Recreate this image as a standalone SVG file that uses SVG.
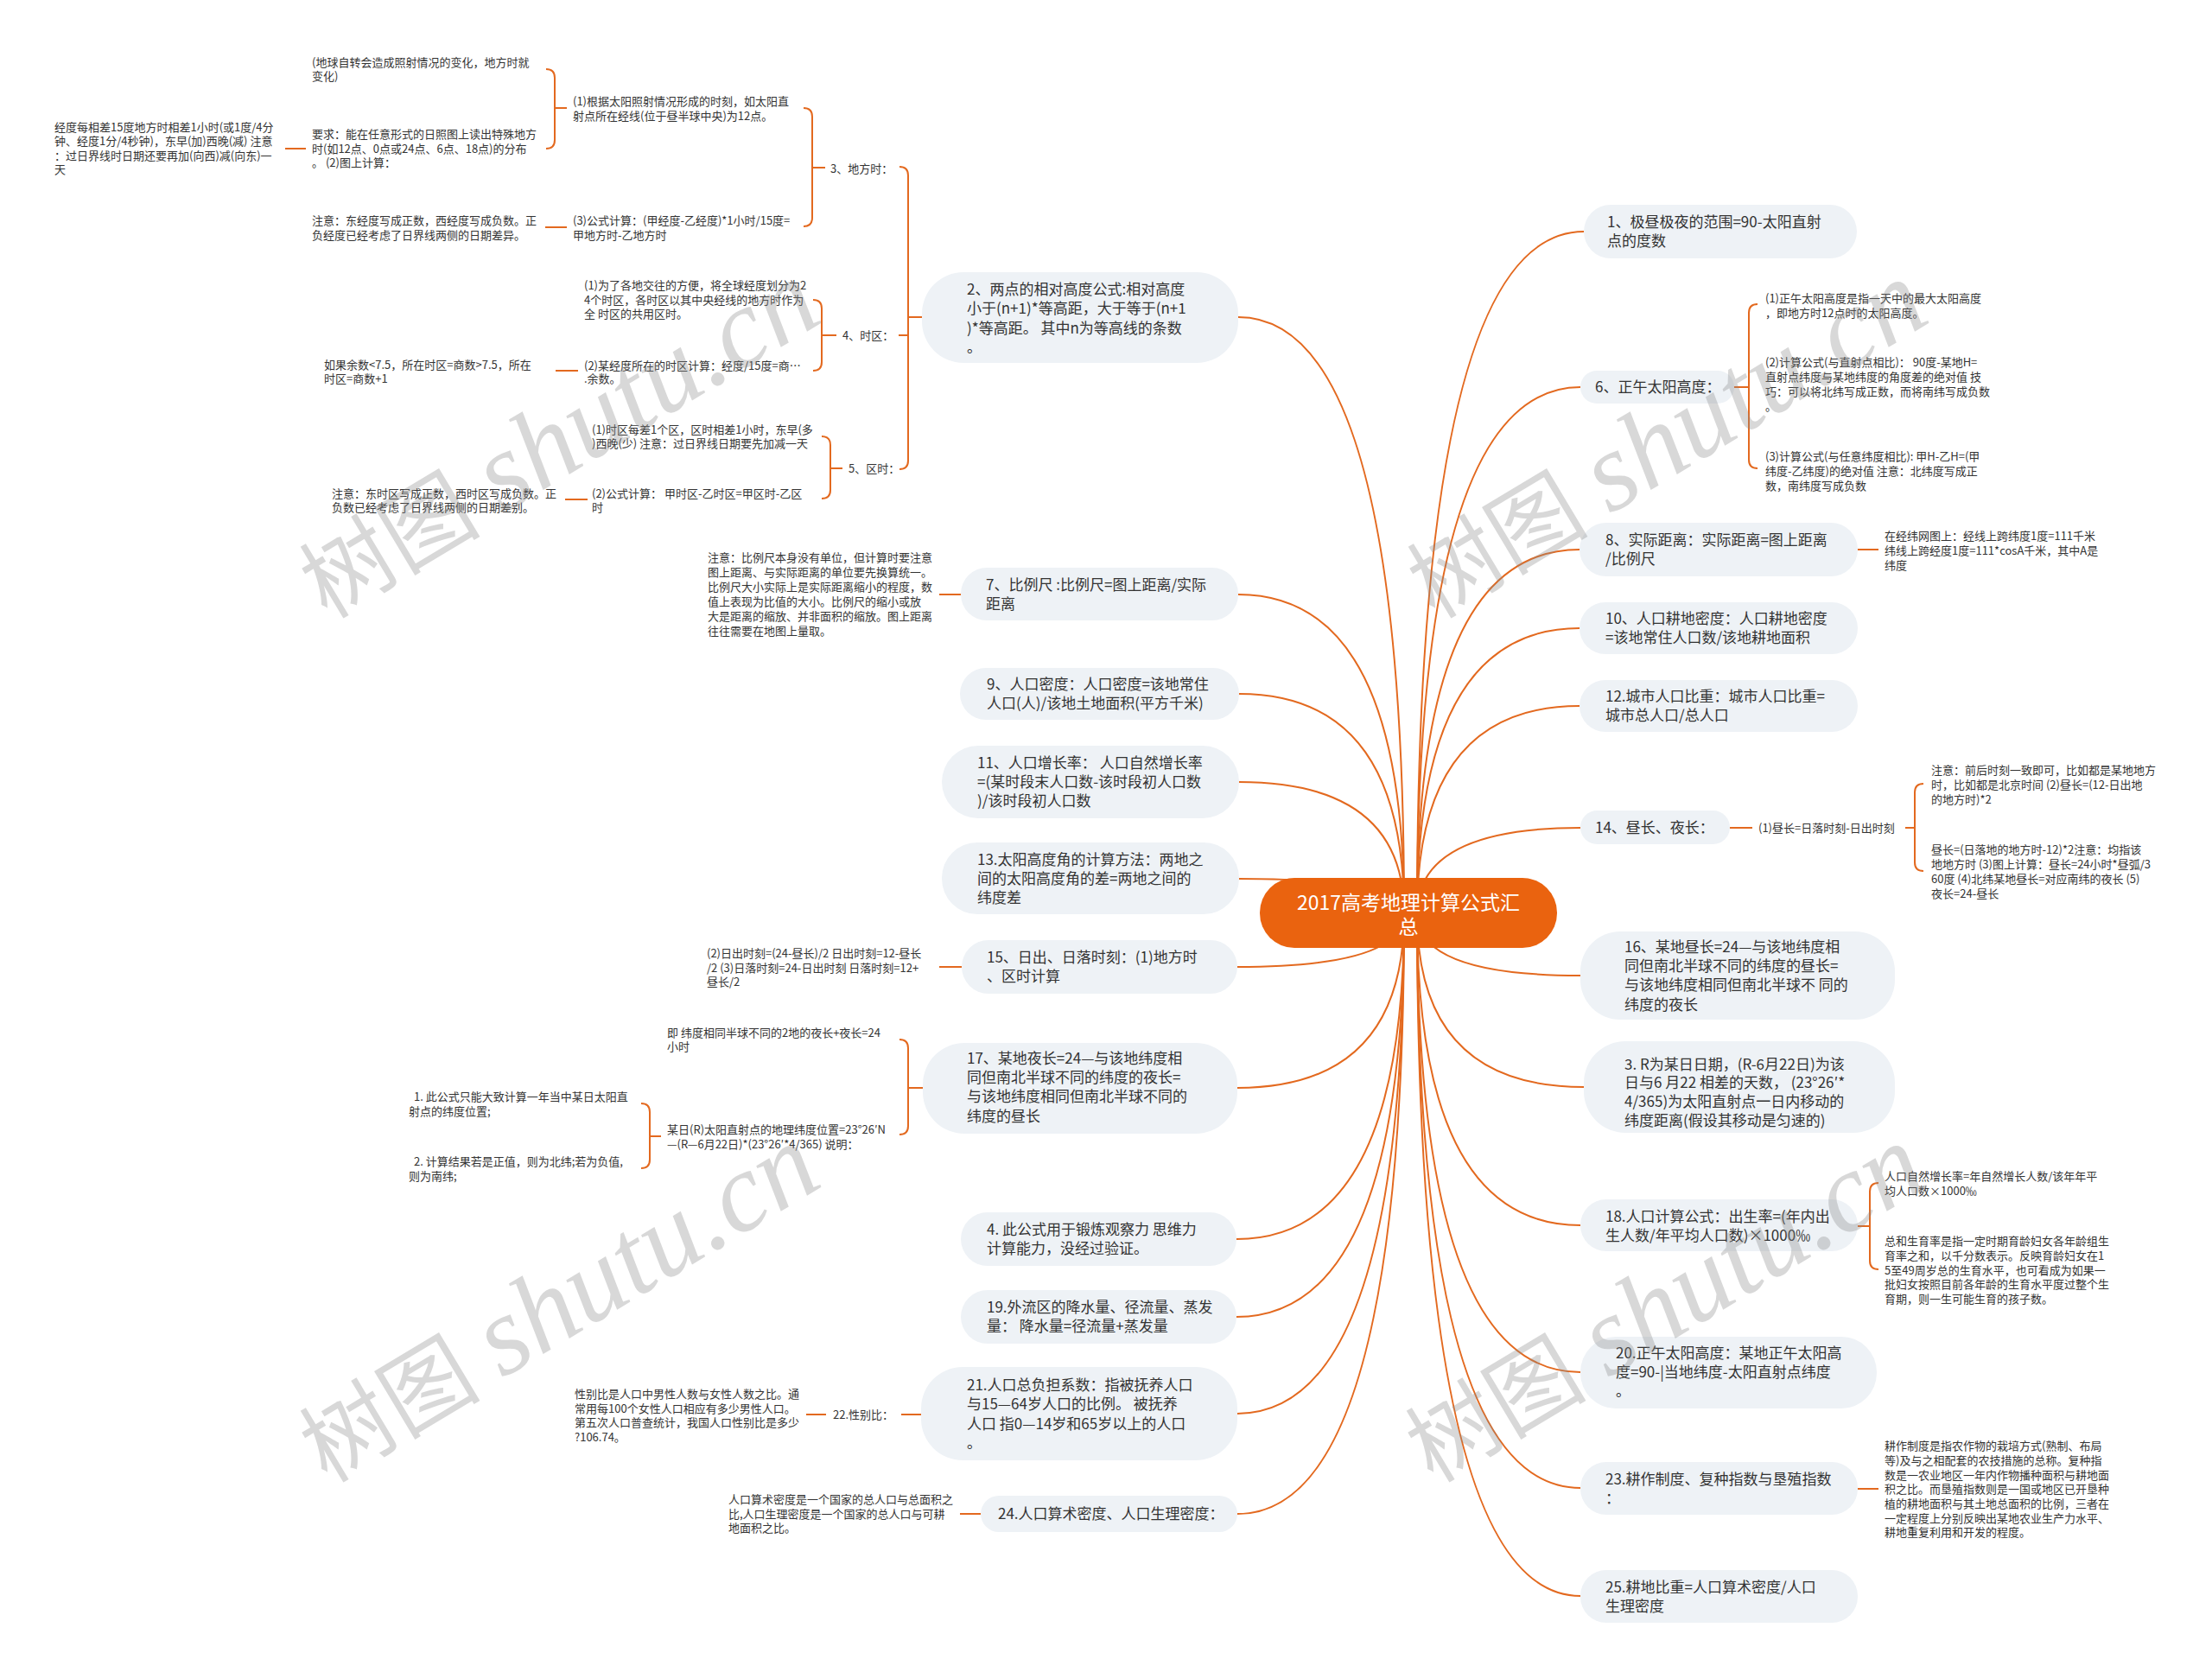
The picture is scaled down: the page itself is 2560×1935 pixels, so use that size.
<svg xmlns="http://www.w3.org/2000/svg" width="2560" height="1935" viewBox="0 0 2560 1935">
<style>
.nb{fill:#EEF2F6}
.t1{font-family:'Noto Sans CJK SC','Noto Sans',sans-serif;font-size:17px;fill:#333}
.t2{font-family:'Noto Sans CJK SC','Noto Sans',sans-serif;font-size:13px;fill:#333}
.t0{font-family:'Noto Sans CJK SC','Noto Sans',sans-serif;font-size:23px;fill:#fff}
.c{fill:none;stroke:#E3691F;stroke-width:2}
.wm{font-family:'Liberation Serif','Noto Sans CJK SC',serif;font-size:105px;fill:#8a8a8a;opacity:.33}
.wl{font-size:130px;font-style:italic}
</style>
<rect width="2560" height="1935" fill="#fff"/>
<g id="connectors">
<path class="c" d="M1625 1057 Q1625 367 1433 367"/>
<path class="c" d="M1625 1057 Q1625 688 1433 688"/>
<path class="c" d="M1625 1057 Q1625 803 1434 803"/>
<path class="c" d="M1625 1057 Q1625 905 1434 905"/>
<path class="c" d="M1625 1057 Q1625 1017 1434 1017"/>
<path class="c" d="M1625 1057 Q1625 1119 1432 1119"/>
<path class="c" d="M1625 1057 Q1625 1259 1432 1259"/>
<path class="c" d="M1625 1057 Q1625 1434 1431 1434"/>
<path class="c" d="M1625 1057 Q1625 1524 1431 1524"/>
<path class="c" d="M1625 1057 Q1625 1636 1432 1636"/>
<path class="c" d="M1625 1057 Q1625 1752 1432 1752"/>
<path class="c" d="M1640 1057 Q1640 268 1833 268"/>
<path class="c" d="M1640 1057 Q1640 448 1829 448"/>
<path class="c" d="M1640 1057 Q1640 636 1828 636"/>
<path class="c" d="M1640 1057 Q1640 727 1828 727"/>
<path class="c" d="M1640 1057 Q1640 817 1828 817"/>
<path class="c" d="M1640 1057 Q1640 958 1829 958"/>
<path class="c" d="M1640 1057 Q1640 1129 1829 1129"/>
<path class="c" d="M1640 1057 Q1640 1258 1833 1258"/>
<path class="c" d="M1640 1057 Q1640 1418 1829 1418"/>
<path class="c" d="M1640 1057 Q1640 1588 1829 1588"/>
<path class="c" d="M1640 1057 Q1640 1722 1829 1722"/>
<path class="c" d="M1640 1057 Q1640 1847 1829 1847"/>
<path class="c" d="M1041 193 Q1051 193 1051 203 L1051 533 Q1051 543 1041 543 M1051 367 L1067 367 M1051 388 L1040 388"/>
<path class="c" d="M930 125 Q940 125 940 135 L940 252 Q940 262 930 262 M940 194 L955 194"/>
<path class="c" d="M632 80 Q642 80 642 90 L642 162 Q642 172 632 172 M642 125 L656 125"/>
<path class="c" d="M330 172 L354 172 M631 263 L656 263"/>
<path class="c" d="M941 347 Q951 347 951 357 L951 419 Q951 429 941 429 M951 388 L968 388"/>
<path class="c" d="M643 429 L669 429"/>
<path class="c" d="M951 505 Q961 505 961 515 L961 567 Q961 577 951 577 M961 542 L975 542"/>
<path class="c" d="M654 578 L680 578"/>
<path class="c" d="M1087 688 L1112 688 M1087 1119 L1113 1119"/>
<path class="c" d="M1041 1203 Q1051 1203 1051 1213 L1051 1303 Q1051 1313 1041 1313 M1051 1259 L1068 1259"/>
<path class="c" d="M742 1277 Q752 1277 752 1287 L752 1342 Q752 1352 742 1352 M752 1315 L765 1315"/>
<path class="c" d="M1043 1637 L1066 1637 M933 1637 L956 1637 M1111 1752 L1135 1752"/>
<path class="c" d="M2007 448 L2024 448 M2034 352 Q2024 352 2024 362 L2024 532 Q2024 542 2034 542"/>
<path class="c" d="M2150 636 L2174 636"/>
<path class="c" d="M2002 958 L2028 958 M2205 958 L2216 958 M2226 907 Q2216 907 2216 917 L2216 998 Q2216 1008 2226 1008"/>
<path class="c" d="M2150 1419 L2164 1419 M2174 1369 Q2164 1369 2164 1379 L2164 1459 Q2164 1469 2174 1469"/>
<path class="c" d="M2150 1723 L2174 1723"/>
</g>
<g id="center"><rect x="1458" y="1016" width="344" height="81" rx="40" fill="#EA630F"/><text class="t0" text-anchor="middle"><tspan x="1630" y="1053">2017高考地理计算公式汇</tspan><tspan x="1630" y="1081">总</tspan></text></g>
<g id="n1"><rect class="nb" x="1833" y="237" width="316" height="62" rx="31"/><text class="t1"><tspan x="1860" y="263">1、极昼极夜的范围=90-太阳直射</tspan><tspan x="1860" y="285">点的度数</tspan></text></g>
<g id="n6"><rect class="nb" x="1829" y="429" width="178" height="38" rx="19"/><text class="t1" x="1846" y="454">6、正午太阳高度：</text></g>
<g id="n6a"><text class="t2"><tspan x="2043" y="350">(1)正午太阳高度是指一天中的最大太阳高度</tspan><tspan x="2043" y="367">，即地方时12点时的太阳高度。</tspan></text></g>
<g id="n6b"><text class="t2"><tspan x="2043" y="424">(2)计算公式(与直射点相比)：  90度-某地H=</tspan><tspan x="2043" y="441">直射点纬度与某地纬度的角度差的绝对值 技</tspan><tspan x="2043" y="458">巧：可以将北纬写成正数，而将南纬写成负数</tspan><tspan x="2043" y="475">。</tspan></text></g>
<g id="n6c"><text class="t2"><tspan x="2043" y="533">(3)计算公式(与任意纬度相比): 甲H-乙H=(甲</tspan><tspan x="2043" y="550">纬度-乙纬度)的绝对值 注意：北纬度写成正</tspan><tspan x="2043" y="567">数，南纬度写成负数</tspan></text></g>
<g id="n8"><rect class="nb" x="1828" y="605" width="322" height="62" rx="31"/><text class="t1"><tspan x="1858" y="631">8、实际距离：实际距离=图上距离</tspan><tspan x="1858" y="653">/比例尺</tspan></text></g>
<g id="n8a"><text class="t2"><tspan x="2181" y="625">在经纬网图上：经线上跨纬度1度=111千米</tspan><tspan x="2181" y="642">纬线上跨经度1度=111*cosA千米，其中A是</tspan><tspan x="2181" y="659">纬度</tspan></text></g>
<g id="n10"><rect class="nb" x="1828" y="697" width="322" height="60" rx="30"/><text class="t1"><tspan x="1858" y="722">10、人口耕地密度：人口耕地密度</tspan><tspan x="1858" y="744">=该地常住人口数/该地耕地面积</tspan></text></g>
<g id="n12"><rect class="nb" x="1828" y="787" width="322" height="60" rx="30"/><text class="t1"><tspan x="1858" y="812">12.城市人口比重：城市人口比重=</tspan><tspan x="1858" y="834">城市总人口/总人口</tspan></text></g>
<g id="n14"><rect class="nb" x="1829" y="938" width="173" height="39" rx="19.5"/><text class="t1" x="1846" y="964">14、昼长、夜长：</text></g>
<g id="n14a"><text class="t2" x="2035" y="963">(1)昼长=日落时刻-日出时刻</text></g>
<g id="n14b"><text class="t2"><tspan x="2235" y="896">注意：前后时刻一致即可，比如都是某地地方</tspan><tspan x="2235" y="913">时，比如都是北京时间 (2)昼长=(12-日出地</tspan><tspan x="2235" y="930">的地方时)*2</tspan></text></g>
<g id="n14c"><text class="t2"><tspan x="2235" y="988">昼长=(日落地的地方时-12)*2注意：均指该</tspan><tspan x="2235" y="1005">地地方时 (3)图上计算：昼长=24小时*昼弧/3</tspan><tspan x="2235" y="1022">60度 (4)北纬某地昼长=对应南纬的夜长 (5)</tspan><tspan x="2235" y="1039">夜长=24-昼长</tspan></text></g>
<g id="n16"><rect class="nb" x="1829" y="1078" width="364" height="102" rx="46"/><text class="t1"><tspan x="1880" y="1102">16、某地昼长=24—与该地纬度相</tspan><tspan x="1880" y="1124">同但南北半球不同的纬度的昼长=</tspan><tspan x="1880" y="1146">与该地纬度相同但南北半球不 同的</tspan><tspan x="1880" y="1169">纬度的夜长</tspan></text></g>
<g id="n3"><rect class="nb" x="1833" y="1205" width="360" height="106" rx="48"/><text class="t1"><tspan x="1880" y="1238">3. R为某日日期，(R-6月22日)为该</tspan><tspan x="1880" y="1259">日与6 月22 相差的天数， (23°26′*</tspan><tspan x="1880" y="1281">4/365)为太阳直射点一日内移动的</tspan><tspan x="1880" y="1303">纬度距离(假设其移动是匀速的)</tspan></text></g>
<g id="n18"><rect class="nb" x="1829" y="1388" width="321" height="60" rx="30"/><text class="t1"><tspan x="1858" y="1414">18.人口计算公式：出生率=(年内出</tspan><tspan x="1858" y="1436">生人数/年平均人口数)×1000‰</tspan></text></g>
<g id="n18a"><text class="t2"><tspan x="2181" y="1366">人口自然增长率=年自然增长人数/该年年平</tspan><tspan x="2181" y="1383">均人口数×1000‰</tspan></text></g>
<g id="n18b"><text class="t2"><tspan x="2181" y="1441">总和生育率是指一定时期育龄妇女各年龄组生</tspan><tspan x="2181" y="1458">育率之和，以千分数表示。反映育龄妇女在1</tspan><tspan x="2181" y="1475">5至49周岁总的生育水平，也可看成为如果一</tspan><tspan x="2181" y="1491">批妇女按照目前各年龄的生育水平度过整个生</tspan><tspan x="2181" y="1508">育期，则一生可能生育的孩子数。</tspan></text></g>
<g id="n20"><rect class="nb" x="1829" y="1547" width="343" height="83" rx="41"/><text class="t1"><tspan x="1870" y="1572">20.正午太阳高度：某地正午太阳高</tspan><tspan x="1870" y="1594">度=90-|当地纬度-太阳直射点纬度</tspan><tspan x="1870" y="1616">。</tspan></text></g>
<g id="n23"><rect class="nb" x="1829" y="1692" width="321" height="61" rx="30"/><text class="t1"><tspan x="1858" y="1718">23.耕作制度、复种指数与垦殖指数</tspan><tspan x="1858" y="1740">：</tspan></text></g>
<g id="n23a"><text class="t2"><tspan x="2181" y="1678">耕作制度是指农作物的栽培方式(熟制、布局</tspan><tspan x="2181" y="1695">等)及与之相配套的农技措施的总称。复种指</tspan><tspan x="2181" y="1712">数是一农业地区一年内作物播种面积与耕地面</tspan><tspan x="2181" y="1728">积之比。而垦殖指数则是一国或地区已开垦种</tspan><tspan x="2181" y="1745">植的耕地面积与其土地总面积的比例，三者在</tspan><tspan x="2181" y="1762">一定程度上分别反映出某地农业生产力水平、</tspan><tspan x="2181" y="1778">耕地重复利用和开发的程度。</tspan></text></g>
<g id="n25"><rect class="nb" x="1829" y="1817" width="321" height="61" rx="30"/><text class="t1"><tspan x="1858" y="1843">25.耕地比重=人口算术密度/人口</tspan><tspan x="1858" y="1865">生理密度</tspan></text></g>
<g id="n2"><rect class="nb" x="1067" y="315" width="366" height="105" rx="48"/><text class="t1"><tspan x="1119" y="341">2、两点的相对高度公式:相对高度</tspan><tspan x="1119" y="363">小于(n+1)*等高距，大于等于(n+1</tspan><tspan x="1119" y="386">)*等高距。 其中n为等高线的条数</tspan><tspan x="1119" y="408">。</tspan></text></g>
<g id="n2a"><text class="t2" x="961" y="200">3、地方时：</text></g>
<g id="n2b"><text class="t2" x="975" y="393">4、时区：</text></g>
<g id="n2c"><text class="t2" x="982" y="547">5、区时：</text></g>
<g id="n3a1"><text class="t2"><tspan x="663" y="122">(1)根据太阳照射情况形成的时刻，如太阳直</tspan><tspan x="663" y="139">射点所在经线(位于昼半球中央)为12点。</tspan></text></g>
<g id="n3a2"><text class="t2"><tspan x="663" y="260">(3)公式计算：(甲经度-乙经度)*1小时/15度=</tspan><tspan x="663" y="277">甲地方时-乙地方时</tspan></text></g>
<g id="n3b1"><text class="t2"><tspan x="361" y="77">(地球自转会造成照射情况的变化，地方时就</tspan><tspan x="361" y="93">变化)</tspan></text></g>
<g id="n3b2"><text class="t2"><tspan x="361" y="160">要求：能在任意形式的日照图上读出特殊地方</tspan><tspan x="361" y="177">时(如12点、0点或24点、6点、18点)的分布</tspan><tspan x="361" y="193">。 (2)图上计算：</tspan></text></g>
<g id="n3c"><text class="t2"><tspan x="63" y="152">经度每相差15度地方时相差1小时(或1度/4分</tspan><tspan x="63" y="168">钟、经度1分/4秒钟)，东早(加)西晚(减) 注意</tspan><tspan x="63" y="185">：过日界线时日期还要再加(向西)减(向东)一</tspan><tspan x="63" y="201">天</tspan></text></g>
<g id="n3d"><text class="t2"><tspan x="361" y="260">注意：东经度写成正数，西经度写成负数。正</tspan><tspan x="361" y="277">负经度已经考虑了日界线两侧的日期差异。</tspan></text></g>
<g id="n4a"><text class="t2"><tspan x="676" y="335">(1)为了各地交往的方便，将全球经度划分为2</tspan><tspan x="676" y="352">4个时区，各时区以其中央经线的地方时作为</tspan><tspan x="676" y="368">全 时区的共用区时。</tspan></text></g>
<g id="n4b"><text class="t2"><tspan x="676" y="428">(2)某经度所在的时区计算：经度/15度=商…</tspan><tspan x="676" y="443">.余数。</tspan></text></g>
<g id="n4c"><text class="t2"><tspan x="375" y="427">如果余数&lt;7.5，所在时区=商数&gt;7.5，所在</tspan><tspan x="375" y="443">时区=商数+1</tspan></text></g>
<g id="n5a"><text class="t2"><tspan x="685" y="502">(1)时区每差1个区，区时相差1小时，东早(多</tspan><tspan x="685" y="518">)西晚(少) 注意：过日界线日期要先加减一天</tspan></text></g>
<g id="n5b"><text class="t2"><tspan x="685" y="576">(2)公式计算： 甲时区-乙时区=甲区时-乙区</tspan><tspan x="685" y="592">时</tspan></text></g>
<g id="n5c"><text class="t2"><tspan x="384" y="576">注意：东时区写成正数，西时区写成负数。正</tspan><tspan x="384" y="592">负数已经考虑了日界线两侧的日期差别。</tspan></text></g>
<g id="n7"><rect class="nb" x="1112" y="657" width="321" height="61" rx="30"/><text class="t1"><tspan x="1141" y="683">7、比例尺 :比例尺=图上距离/实际</tspan><tspan x="1141" y="705">距离</tspan></text></g>
<g id="n7a"><text class="t2"><tspan x="819" y="650">注意：比例尺本身没有单位，但计算时要注意</tspan><tspan x="819" y="667">图上距离、与实际距离的单位要先换算统一。</tspan><tspan x="819" y="684">比例尺大小实际上是实际距离缩小的程度，数</tspan><tspan x="819" y="701">值上表现为比值的大小。比例尺的缩小或放</tspan><tspan x="819" y="718">大是距离的缩放、并非面积的缩放。图上距离</tspan><tspan x="819" y="735">往往需要在地图上量取。</tspan></text></g>
<g id="n9"><rect class="nb" x="1111" y="773" width="323" height="60" rx="30"/><text class="t1"><tspan x="1142" y="798">9、人口密度：人口密度=该地常住</tspan><tspan x="1142" y="820">人口(人)/该地土地面积(平方千米)</tspan></text></g>
<g id="n11"><rect class="nb" x="1090" y="863" width="344" height="84" rx="42"/><text class="t1"><tspan x="1131" y="889">11、人口增长率：  人口自然增长率</tspan><tspan x="1131" y="911">=(某时段末人口数-该时段初人口数</tspan><tspan x="1131" y="933">)/该时段初人口数</tspan></text></g>
<g id="n13"><rect class="nb" x="1090" y="975" width="344" height="83" rx="41"/><text class="t1"><tspan x="1131" y="1001">13.太阳高度角的计算方法：两地之</tspan><tspan x="1131" y="1023">间的太阳高度角的差=两地之间的</tspan><tspan x="1131" y="1045">纬度差</tspan></text></g>
<g id="n15"><rect class="nb" x="1113" y="1088" width="319" height="62" rx="31"/><text class="t1"><tspan x="1142" y="1114">15、日出、日落时刻：(1)地方时</tspan><tspan x="1142" y="1136">、区时计算</tspan></text></g>
<g id="n15a"><text class="t2"><tspan x="818" y="1108">(2)日出时刻=(24-昼长)/2 日出时刻=12-昼长</tspan><tspan x="818" y="1125">/2 (3)日落时刻=24-日出时刻 日落时刻=12+</tspan><tspan x="818" y="1141">昼长/2</tspan></text></g>
<g id="n17"><rect class="nb" x="1068" y="1207" width="364" height="105" rx="48"/><text class="t1"><tspan x="1119" y="1231">17、某地夜长=24—与该地纬度相</tspan><tspan x="1119" y="1253">同但南北半球不同的纬度的夜长=</tspan><tspan x="1119" y="1275">与该地纬度相同但南北半球不同的</tspan><tspan x="1119" y="1298">纬度的昼长</tspan></text></g>
<g id="n17a"><text class="t2"><tspan x="772" y="1200">即 纬度相同半球不同的2地的夜长+夜长=24</tspan><tspan x="772" y="1216">小时</tspan></text></g>
<g id="n17b"><text class="t2"><tspan x="772" y="1312">某日(R)太阳直射点的地理纬度位置=23°26′N</tspan><tspan x="772" y="1329">—(R—6月22日)*(23°26′*4/365) 说明：</tspan></text></g>
<g id="n17c"><text class="t2"><tspan x="479" y="1274">1. 此公式只能大致计算一年当中某日太阳直</tspan><tspan x="473" y="1291">射点的纬度位置;</tspan></text></g>
<g id="n17d"><text class="t2"><tspan x="479" y="1349">2. 计算结果若是正值，则为北纬;若为负值,</tspan><tspan x="473" y="1366">则为南纬;</tspan></text></g>
<g id="n4"><rect class="nb" x="1112" y="1403" width="319" height="62" rx="31"/><text class="t1"><tspan x="1142" y="1429">4. 此公式用于锻炼观察力 思维力</tspan><tspan x="1142" y="1451">计算能力，没经过验证。</tspan></text></g>
<g id="n19"><rect class="nb" x="1112" y="1493" width="319" height="62" rx="31"/><text class="t1"><tspan x="1142" y="1519">19.外流区的降水量、径流量、蒸发</tspan><tspan x="1142" y="1541">量：  降水量=径流量+蒸发量</tspan></text></g>
<g id="n21"><rect class="nb" x="1066" y="1582" width="366" height="108" rx="48"/><text class="t1"><tspan x="1119" y="1609">21.人口总负担系数：指被抚养人口</tspan><tspan x="1119" y="1631">与15—64岁人口的比例。 被抚养</tspan><tspan x="1119" y="1654">人口 指0—14岁和65岁以上的人口</tspan><tspan x="1119" y="1676">。</tspan></text></g>
<g id="n22"><text class="t2" x="964" y="1642">22.性别比：</text></g>
<g id="n22a"><text class="t2"><tspan x="665" y="1618">性别比是人口中男性人数与女性人数之比。通</tspan><tspan x="665" y="1635">常用每100个女性人口相应有多少男性人口。</tspan><tspan x="665" y="1651">第五次人口普查统计，我国人口性别比是多少</tspan><tspan x="665" y="1668">?106.74。</tspan></text></g>
<g id="n24"><rect class="nb" x="1135" y="1731" width="297" height="42" rx="21"/><text class="t1" x="1155" y="1758">24.人口算术密度、人口生理密度：</text></g>
<g id="n24a"><text class="t2"><tspan x="843" y="1740">人口算术密度是一个国家的总人口与总面积之</tspan><tspan x="843" y="1757">比,人口生理密度是一个国家的总人口与可耕</tspan><tspan x="843" y="1773">地面积之比。</tspan></text></g>
<g id="watermark">
<text class="wm" text-anchor="middle" transform="translate(649,514) rotate(-31)" y="35">树图 <tspan class="wl">shutu.cn</tspan></text>
<text class="wm" text-anchor="middle" transform="translate(1931,514) rotate(-31)" y="35">树图 <tspan class="wl">shutu.cn</tspan></text>
<text class="wm" text-anchor="middle" transform="translate(649,1514) rotate(-31)" y="35">树图 <tspan class="wl">shutu.cn</tspan></text>
<text class="wm" text-anchor="middle" transform="translate(1929,1514) rotate(-31)" y="35">树图 <tspan class="wl">shutu.cn</tspan></text>
</g>
</svg>
